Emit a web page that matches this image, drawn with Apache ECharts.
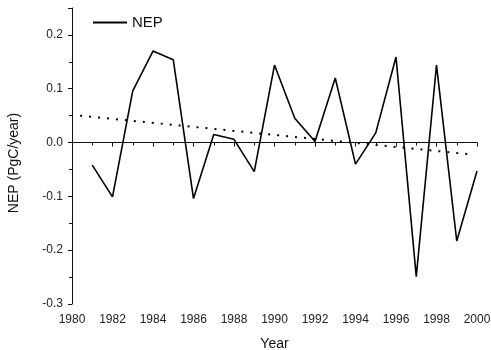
<!DOCTYPE html>
<html><head><meta charset="utf-8">
<script src="https://cdn.jsdelivr.net/npm/echarts@6/dist/echarts.min.js"></script>
<style>html,body{margin:0;padding:0;background:#fff}#c{width:491px;height:350px}</style>
</head><body><div id="c"></div>
<script>
var years = [1981,1982,1983,1984,1985,1986,1987,1988,1989,1990,1991,1992,1993,1994,1995,1996,1997,1998,1999,2000];
var nep = [-0.042,-0.101,0.096,0.170,0.154,-0.104,0.015,0.006,-0.054,0.144,0.045,0.002,0.120,-0.040,0.018,0.159,-0.249,0.144,-0.183,-0.053];
var trendYears = [1980.4, 1999.7];
var trendValues = [0.050, -0.022];
var yTicks = [-0.3,-0.2,-0.1,0.0,0.1,0.2];

var chart = echarts.init(document.getElementById('c'));
var font = 'Liberation Sans, Arial, sans-serif';
chart.setOption({
  animation: false,
  backgroundColor: '#fff',
  grid: {left: 72, right: 14, top: 8, bottom: 46, outerBoundsMode: 'none', containLabel: false},
  legend: {
    data: ['NEP'], left: 93, top: 15, padding: 0, icon: 'rect', itemWidth: 34, itemHeight: 2,
    itemGap: 5, textStyle: {fontFamily: font, fontSize: 15, color: '#111'}
  },
  xAxis: {
    type: 'value', min: 1980, max: 2000, interval: 2,
    name: 'Year', nameLocation: 'middle', nameGap: 33,
    nameTextStyle: {fontFamily: font, fontSize: 14, color: '#111'},
    axisLine: {show: true, lineStyle: {color: '#111', width: 1}},
    axisTick: {show: true, inside: false, length: 4, lineStyle: {color: '#111'}},
    minorTick: {show: true, splitNumber: 2, length: 3, lineStyle: {color: '#111'}},
    splitLine: {show: false},
    axisLabel: {fontFamily: font, fontSize: 12, color: '#222', margin: 10, formatter: function(v){return String(v);}}
  },
  yAxis: {
    type: 'value', min: -0.3, max: 0.25, interval: 0.1,
    name: 'NEP (PgC/year)', nameLocation: 'middle', nameGap: 51, nameRotate: 90,
    nameTextStyle: {fontFamily: font, fontSize: 14, color: '#111', padding: [0, 14, 0, 0]},
    axisLine: {show: true, lineStyle: {color: '#111', width: 1}},
    axisTick: {show: true, inside: false, length: 4, lineStyle: {color: '#111'}},
    minorTick: {show: true, splitNumber: 2, length: 3, lineStyle: {color: '#111'}},
    splitLine: {show: false},
    axisLabel: {fontFamily: font, fontSize: 12, color: '#222', margin: 9, showMaxLabel: false,
      formatter: function(v){ return yTicks.some(function(t){return Math.abs(t-v)<1e-9;}) ? v.toFixed(1) : ''; }}
  },
  series: [
    {name: 'NEP', type: 'line', symbol: 'none', color: '#000',
     lineStyle: {color: '#000', width: 1.6},
     data: years.map(function(y,i){return [y, nep[i]];})},
    {name: 'trend', type: 'line', symbol: 'none', color: '#000',
     lineStyle: {color: '#000', width: 2, type: [2, 7]},
     data: trendYears.map(function(y,i){return [y, trendValues[i]];})}
  ]
});
</script></body></html>
